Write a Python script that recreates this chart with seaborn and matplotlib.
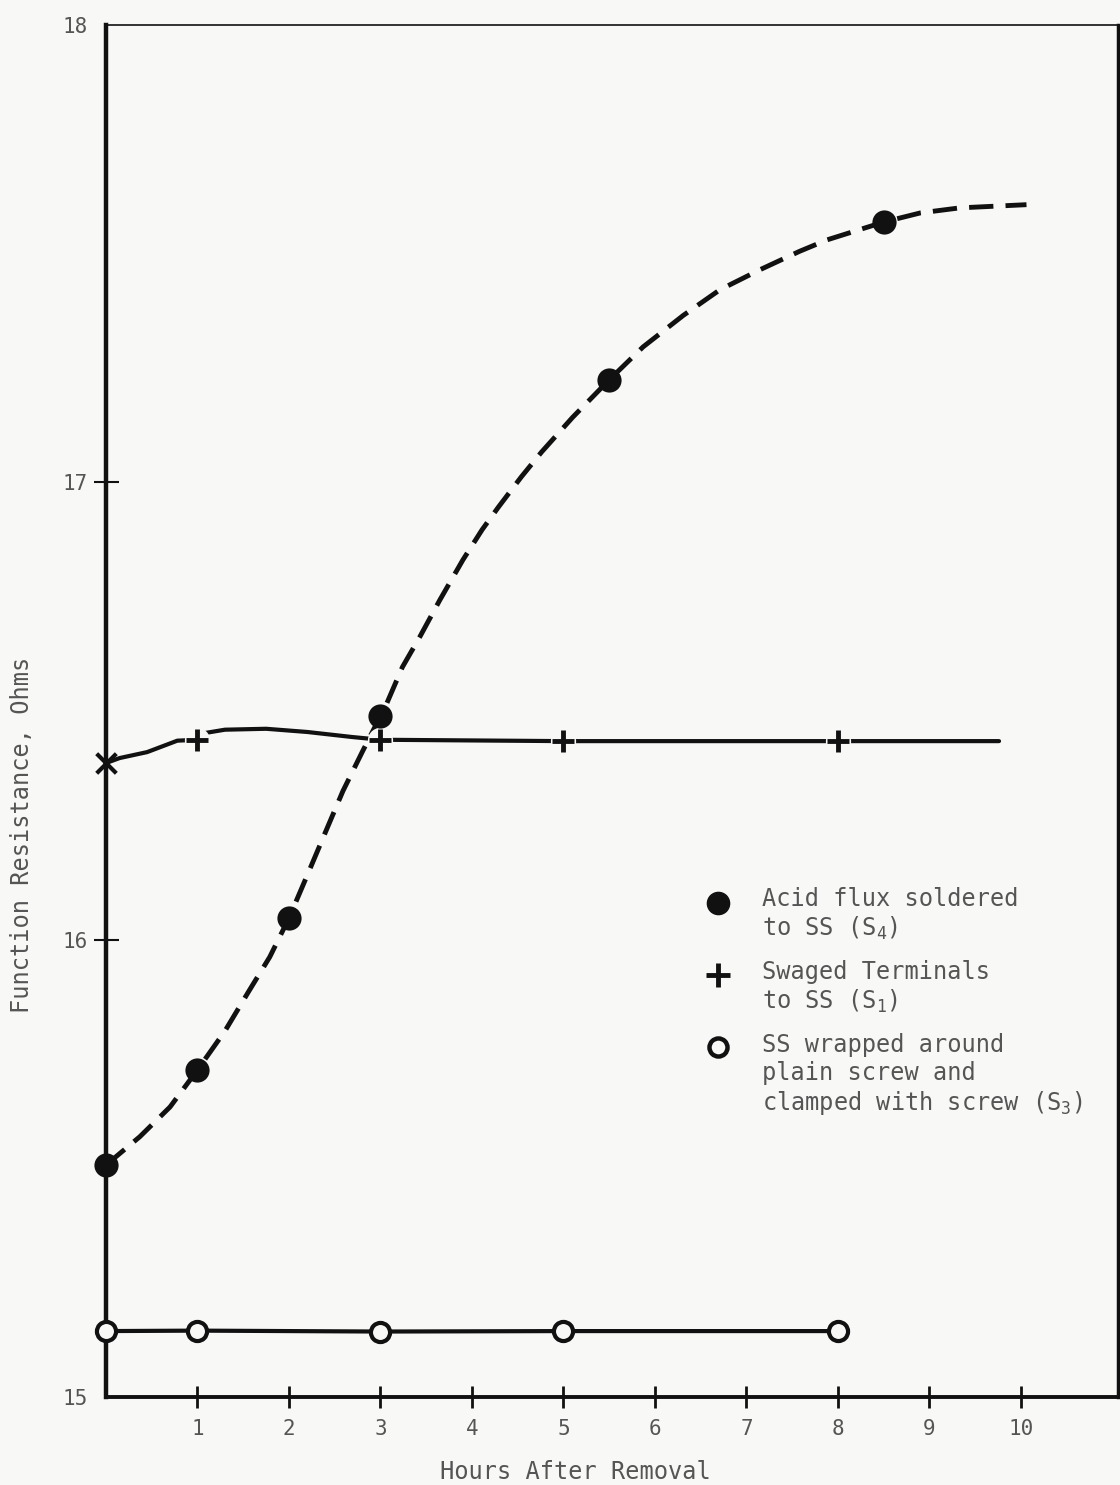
import matplotlib
matplotlib.use('Agg')
import matplotlib.pyplot as plt
import seaborn as sns
from matplotlib.lines import Line2D
from matplotlib.legend_handler import HandlerLine2D

# Values
acid_hours = [0, 1, 2, 3, 5.5, 8.5]
acid_ohms = [15.507, 15.715, 16.047, 16.489, 17.224, 17.569]

# hand drawn dashed curve through the acid flux points
acid_curve_hours = [0, 0.37, 0.70, 1.0, 1.3, 1.57, 1.79, 2.0, 2.23, 2.42, 2.59, 2.8, 3.0,
                    3.07, 3.24, 3.43, 3.65, 3.9, 4.11, 4.29, 4.54, 4.76, 5.1, 5.5, 5.87,
                    6.31, 6.71, 7.15, 7.58, 7.88, 8.5, 8.9, 9.33, 10.06]
acid_curve_ohms = [15.507, 15.569, 15.634, 15.715, 15.80, 15.890, 15.962, 16.047, 16.155,
                   16.245, 16.325, 16.41, 16.489, 16.517, 16.596, 16.662, 16.743, 16.830,
                   16.896, 16.946, 17.012, 17.066, 17.142, 17.224, 17.296, 17.365, 17.421,
                   17.465, 17.505, 17.530, 17.569, 17.589, 17.600, 17.607]

swaged_hours = [0, 1, 3, 5, 8]
swaged_ohms = [16.386, 16.437, 16.437, 16.434, 16.434]

swaged_curve_hours = [0, 0.15, 0.45, 0.78, 1.0, 1.09, 1.3, 1.75, 2.2, 2.69, 3.0, 5.0, 8.0, 9.76]
swaged_curve_ohms = [16.386, 16.397, 16.410, 16.435, 16.437, 16.452, 16.459, 16.461, 16.454,
                     16.443, 16.437, 16.434, 16.434, 16.434]

screw_hours = [0, 1, 3, 5, 8]
screw_ohms = [15.144, 15.145, 15.143, 15.144, 15.144]

legend_labels = ['Acid flux soldered\nto SS ($S_4$)',
                 'Swaged Terminals\nto SS ($S_1$)',
                 'SS wrapped around\nplain screw and\nclamped with screw ($S_3$)']

x_ticks = [1, 2, 3, 4, 5, 6, 7, 8, 9, 10]
y_ticks = [15, 16, 17, 18]

bg = '#f8f8f6'
ink = '#111111'
txt = '#555555'


class TopLineHandler(HandlerLine2D):
    # put the legend key level with the first line of a wrapped label
    def __init__(self, lift, **kw):
        super().__init__(**kw)
        self.lift = lift

    def create_artists(self, legend, orig_handle, xdescent, ydescent, width, height,
                       fontsize, trans):
        artists = super().create_artists(legend, orig_handle, xdescent, ydescent,
                                         width, height, fontsize, trans)
        for a in artists:
            a.set_ydata([y + self.lift for y in a.get_ydata()])
        return artists


sns.set_style('white')
plt.rcParams['font.family'] = ['DejaVu Sans Mono']
plt.rcParams['mathtext.fontset'] = 'custom'
plt.rcParams['mathtext.rm'] = 'DejaVu Sans Mono'
plt.rcParams['mathtext.it'] = 'DejaVu Sans Mono'
plt.rcParams['mathtext.default'] = 'rm'

fig = plt.figure(figsize=(11.2, 14.85), dpi=100, facecolor=bg)
ax = fig.add_axes([0.0946, 0.0593, 0.9036, 0.9239])
ax.set_facecolor(bg)

# curves
sns.lineplot(x=acid_curve_hours, y=acid_curve_ohms, ax=ax, sort=False, estimator=None,
             color=ink, lw=3.5, linestyle=(0, (5, 2.5)), zorder=2)
sns.lineplot(x=swaged_curve_hours, y=swaged_curve_ohms, ax=ax, sort=False, estimator=None,
             color=ink, lw=3, zorder=2)
sns.lineplot(x=screw_hours, y=screw_ohms, ax=ax, sort=False, estimator=None,
             color=ink, lw=3, zorder=2)

# small gaps round the plus marks, like the hand drawn line
sns.scatterplot(x=swaged_hours[1:], y=swaged_ohms[1:], ax=ax, marker='o', s=330,
                color=bg, linewidth=0, zorder=3)

# markers
sns.scatterplot(x=acid_hours, y=acid_ohms, ax=ax, marker='o', s=260,
                color=ink, edgecolor=ink, zorder=4, clip_on=False)
sns.scatterplot(x=swaged_hours[1:], y=swaged_ohms[1:], ax=ax, marker='+', s=260,
                color=ink, linewidth=3.5, zorder=4)
sns.scatterplot(x=swaged_hours[:1], y=swaged_ohms[:1], ax=ax, marker='x', s=200,
                color=ink, linewidth=3, zorder=4, clip_on=False)
sns.scatterplot(x=screw_hours, y=screw_ohms, ax=ax, marker='o', s=190,
                facecolor=bg, edgecolor=ink, linewidth=3, zorder=4, clip_on=False)

ax.set_xlim(0, 11.06)
ax.set_ylim(15, 18)
ax.set_xticks(x_ticks)
ax.set_xticklabels([str(t) for t in x_ticks])
ax.set_yticks(y_ticks)
ax.set_yticklabels([str(t) for t in y_ticks])

for side, w in [('left', 3.2), ('bottom', 2.8), ('top', 1.2), ('right', 2.5)]:
    ax.spines[side].set_linewidth(w)
    ax.spines[side].set_color(ink)
    ax.spines[side].set_visible(True)

ax.tick_params(axis='x', direction='inout', length=16, width=2, pad=8,
               labelsize=15, labelcolor=txt, color=ink, bottom=True)
ax.tick_params(axis='y', direction='inout', length=18, width=1.5, pad=4,
               labelsize=15, labelcolor=txt, color=ink, left=True)
# the corner values carry no tick mark in the original
for tk in (ax.yaxis.get_major_ticks()[0], ax.yaxis.get_major_ticks()[-1]):
    tk.tick1line.set_visible(False)

ax.set_xlabel('Hours After Removal', fontsize=17, color=txt)
ax.set_ylabel('Function Resistance, Ohms', fontsize=17, color=txt)
ax.xaxis.set_label_coords(0.464, -0.046)
ax.yaxis.set_label_coords(-0.071, 0.41)

handles = [
    Line2D([], [], linestyle='none', marker='o', markersize=16, color=ink),
    Line2D([], [], linestyle='none', marker='+', markersize=17, markeredgewidth=3.5, color=ink),
    Line2D([], [], linestyle='none', marker='o', markersize=13, markerfacecolor=bg,
           markeredgecolor=ink, markeredgewidth=3.2),
]
handler_map = {handles[0]: TopLineHandler(9), handles[1]: TopLineHandler(10),
               handles[2]: TopLineHandler(21)}
leg = ax.legend(handles, legend_labels, loc='upper left', bbox_to_anchor=(0.593, 0.372),
                frameon=False, fontsize=17, handlelength=1.0, handletextpad=1.35,
                labelspacing=0.75, borderpad=0, borderaxespad=0, handler_map=handler_map)
for t in leg.get_texts():
    t.set_color(txt)

fig.savefig('out.png', dpi=100, facecolor=bg)
